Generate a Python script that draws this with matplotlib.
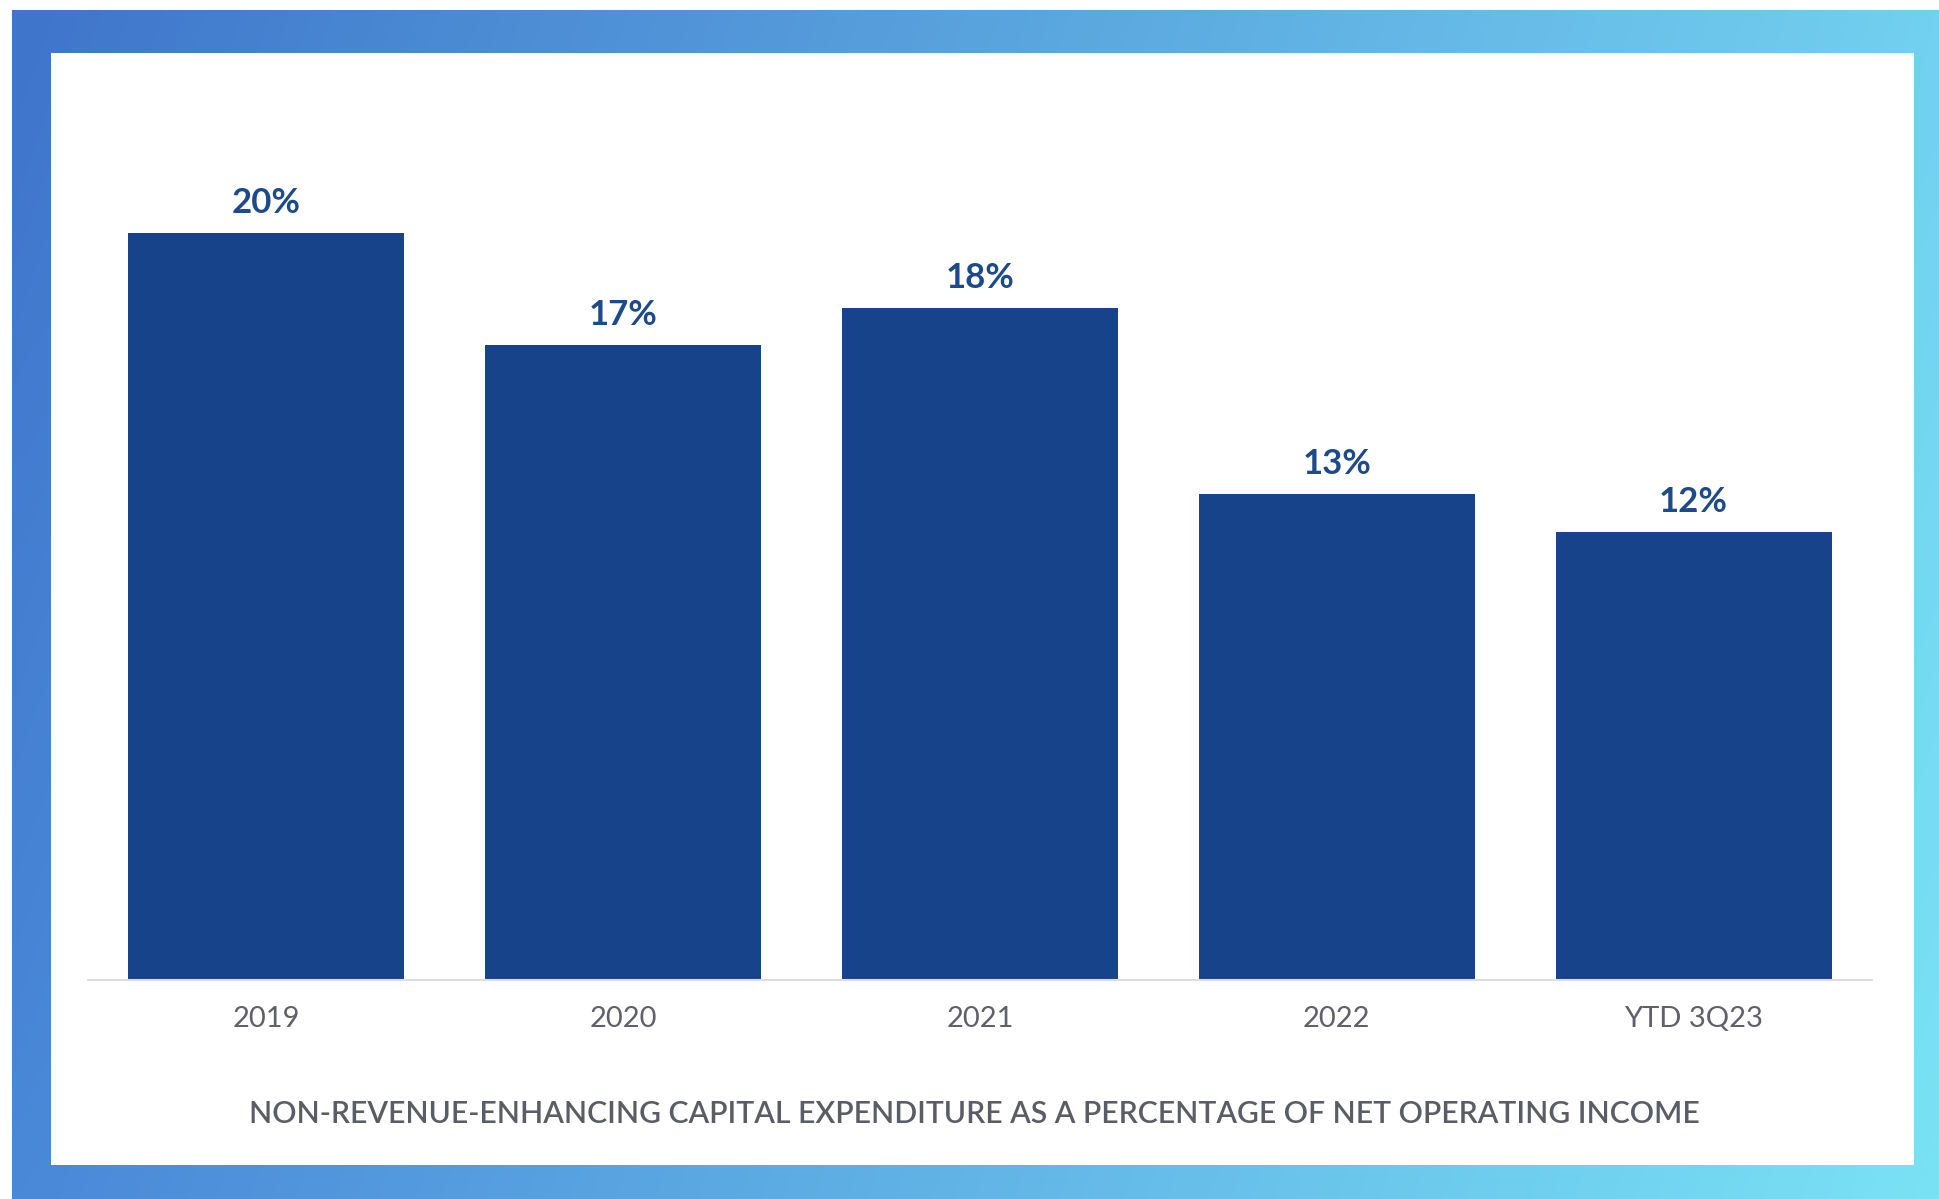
import numpy as np
import matplotlib
matplotlib.use("Agg")
import matplotlib.pyplot as plt
from matplotlib.patches import Rectangle

# Data
categories = ["2019", "2020", "2021", "2022", "YTD 3Q23"]
values = [20, 17, 18, 13, 12]
value_labels = ["20%", "17%", "18%", "13%", "12%"]
chart_title = "NON-REVENUE-ENHANCING CAPITAL EXPENDITURE AS A PERCENTAGE OF NET OPERATING INCOME"

W, H = 1940, 1199
DPI = 100
plt.rcParams["font.family"] = ["Lato", "DejaVu Sans"]

fig = plt.figure(figsize=(W / DPI, H / DPI), dpi=DPI)
fig.patch.set_facecolor("white")

# Gradient frame behind the white card
bg = fig.add_axes([0, 0, 1, 1], zorder=0)
bg.set_xlim(0, W)
bg.set_ylim(H, 0)
bg.axis("off")
tl = np.array([63, 117, 203]) / 255
tr = np.array([114, 208, 240]) / 255
bl = np.array([74, 136, 216]) / 255
br = np.array([122, 226, 245]) / 255
u = np.linspace(0, 1, 200)[None, :, None]
v = np.linspace(0, 1, 200)[:, None, None]
grad = (1 - v) * ((1 - u) * tl + u * tr) + v * ((1 - u) * bl + u * br)
bg.imshow(grad, extent=(12, W, H, 10), aspect="auto", interpolation="bilinear")
bg.add_patch(Rectangle((51, 53), 1914 - 51, 1165 - 53, facecolor="white", edgecolor="none"))

# Bar chart
ax_left, ax_right = 88, 1872
ax_bottom, ax_top = 980, 140
ax = fig.add_axes([ax_left / W, (H - ax_bottom) / H, (ax_right - ax_left) / W,
                   (ax_bottom - ax_top) / H], zorder=1)
ax.set_facecolor("none")
px_per_unit = 747 / 20
ax.set_xlim(-0.5, len(categories) - 0.5)
ax.set_ylim(0, (ax_bottom - ax_top) / px_per_unit)

x = np.arange(len(categories))
bars = ax.bar(x, values, width=0.773, color="#16438a", zorder=2)

for b, lab in zip(bars, value_labels):
    ax.annotate(lab, (b.get_x() + b.get_width() / 2, b.get_height()),
                xytext=(0, 14.4), textcoords="offset points",
                ha="center", va="baseline", fontsize=25, fontweight="bold",
                color="#1d4a8a")

ax.set_xticks(x)
ax.set_xticklabels(categories, fontsize=21, color="#5f6068")
ax.tick_params(axis="x", length=0, pad=18.5)
ax.set_yticks([])
for s in ["top", "right", "left"]:
    ax.spines[s].set_visible(False)
ax.spines["bottom"].set_color("#dcdde0")
ax.spines["bottom"].set_linewidth(1.5)

fig.text(974 / W, 1 - 1114 / H, chart_title, ha="center", va="center",
         fontsize=21.7, fontweight="semibold", color="#5a5c66")

fig.savefig("out.png", dpi=DPI)
